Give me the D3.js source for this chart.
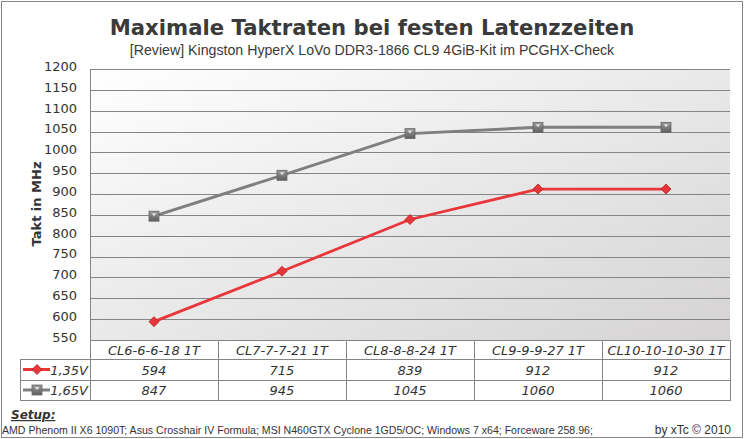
<!DOCTYPE html>
<html><head><meta charset="utf-8">
<script src="https://cdn.jsdelivr.net/npm/d3@7"></script>
<style>body{margin:0;background:#fff}svg{display:block}</style>
</head><body>
<svg id="c" width="746" height="439"></svg>
<script>
const categories = ["CL6-6-6-18 1T","CL7-7-7-21 1T","CL8-8-8-24 1T","CL9-9-9-27 1T","CL10-10-10-30 1T"];
const seriesNames = ["1,35V","1,65V"];
const values135 = [594,715,839,912,912];
const values165 = [847,945,1045,1060,1060];
const yTicks = [550,600,650,700,750,800,850,900,950,1000,1050,1100,1150,1200];
const title = "Maximale Taktraten bei festen Latenzzeiten";
const subtitle = "[Review] Kingston HyperX LoVo DDR3-1866 CL9 4GiB-Kit im PCGHX-Check";
const yTitle = "Takt in MHz";
const setupLabel = "Setup:";
const setupText = "AMD Phenom II X6 1090T; Asus Crosshair IV Formula; MSI N460GTX Cyclone 1GD5/OC; Windows 7 x64; Forceware 258.96;";
const credit = "by xTc © 2010";

const series = [
  {name: seriesNames[0], values: values135, color:"#e8363a", marker:"diamond"},
  {name: seriesNames[1], values: values165, color:"#7f7f7f", marker:"square"}
];

const svg = d3.select("#c");
const P={l:90,r:730,t:69,b:340};
const font="Tahoma, 'DejaVu Sans', sans-serif";
const narrow="'Liberation Sans', Arial, sans-serif";
const txt="#333";

svg.append("rect").attr("x",1.5).attr("y",1.5).attr("width",741).attr("height",436)
  .attr("fill","#fff").attr("stroke","#888").attr("stroke-width",1);

const defs=svg.append("defs");
const g=defs.append("linearGradient").attr("id","bg").attr("x1","0").attr("y1","0").attr("x2","1").attr("y2","1");
g.append("stop").attr("offset","0").attr("stop-color","#ffffff");
g.append("stop").attr("offset","1").attr("stop-color","#d5d3d3");
const gs=defs.append("linearGradient").attr("id","sq").attr("x1","0").attr("y1","0").attr("x2","0").attr("y2","1");
gs.append("stop").attr("offset","0").attr("stop-color","#9a9a9a");
gs.append("stop").attr("offset","1").attr("stop-color","#5e5e5e");

const x=d3.scaleBand().domain(categories).range([P.l,P.r]);
const y=d3.scaleLinear().domain([550,1200]).range([P.b,P.t]);

svg.append("rect").attr("x",P.l).attr("y",P.t).attr("width",P.r-P.l).attr("height",P.b-P.t).attr("fill","url(#bg)");

const yAxis=d3.axisLeft(y).tickValues(yTicks).tickFormat(d3.format("d")).tickSize(-(P.r-P.l)).tickPadding(13);
const ya=svg.append("g").attr("transform",`translate(${P.l},0)`).call(yAxis);
ya.select(".domain").remove();
ya.selectAll(".tick line").attr("stroke","#858585").attr("stroke-width",1).attr("shape-rendering","crispEdges");
ya.selectAll(".tick text").attr("fill",txt).attr("font-family",font).attr("font-size",13).attr("dy","0.1em");

svg.append("line").attr("x1",P.l+0.5).attr("x2",P.l+0.5).attr("y1",P.t).attr("y2",400)
  .attr("stroke","#858585").attr("shape-rendering","crispEdges");

function fit(sel,w){const l=sel.node().getComputedTextLength();const fs=+sel.attr("font-size");sel.attr("font-size",fs*w/l);}
const t=svg.append("text").attr("x",372).attr("y",35).attr("text-anchor","middle").attr("font-family",font)
  .attr("font-weight","bold").attr("font-size",26).attr("fill","#3a3a3a").text(title);
fit(t,525);
const st=svg.append("text").attr("x",372).attr("y",55).attr("text-anchor","middle").attr("font-family",narrow)
  .attr("font-size",15).attr("fill","#3a3a3a").text(subtitle);
fit(st,485);

svg.append("text").attr("transform","translate(41,204) rotate(-90)").attr("text-anchor","middle")
  .attr("font-family",font).attr("font-weight","bold").attr("font-size",13).attr("fill",txt).text(yTitle);

const line=d3.line().x((d,i)=>x(categories[i])+x.bandwidth()/2).y(d=>y(d));
function drawMarker(gm,type,cx,cy,color){
  if(type==="diamond"){
    gm.append("path").attr("d",`M${cx},${cy-5}L${cx+5},${cy}L${cx},${cy+5}L${cx-5},${cy}Z`)
      .attr("fill",color).attr("stroke","#b02020").attr("stroke-width",0.8);
  } else {
    gm.append("rect").attr("x",cx-5).attr("y",cy-5).attr("width",10).attr("height",10)
      .attr("fill","url(#sq)").attr("stroke","#666").attr("stroke-width",0.8);
    gm.append("path").attr("d",`M${cx-2.5},${cy-3}L${cx+2.5},${cy-3}L${cx},${cy}Z`).attr("fill","#e0e0e0");
  }
}
series.slice().reverse().forEach(s=>{
  svg.append("path").datum(s.values).attr("d",line).attr("fill","none").attr("stroke",s.color)
    .attr("stroke-width",s.marker==="square"?3:2.8);
  const gm=svg.append("g");
  s.values.forEach((v,i)=>drawMarker(gm,s.marker,x(categories[i])+x.bandwidth()/2,y(v),s.color));
});

const rows=[340,359,380,400];
const tg=svg.append("g").attr("stroke","#858585").attr("shape-rendering","crispEdges");
tg.append("line").attr("x1",P.l).attr("x2",P.r+1).attr("y1",rows[0]+0.5).attr("y2",rows[0]+0.5);
[1,2,3].forEach(k=>tg.append("line").attr("x1",20).attr("x2",P.r+1).attr("y1",rows[k]+0.5).attr("y2",rows[k]+0.5));
tg.append("line").attr("x1",20.5).attr("x2",20.5).attr("y1",rows[1]).attr("y2",rows[3]);
categories.forEach(c=>{const xx=x(c)+x.bandwidth();
  tg.append("line").attr("x1",xx+0.5).attr("x2",xx+0.5).attr("y1",rows[0]).attr("y2",rows[3]);});

categories.forEach(c=>svg.append("text").attr("x",x(c)+x.bandwidth()/2).attr("y",rows[0]+14.5)
  .attr("text-anchor","middle").attr("font-family",font).attr("font-style","italic").attr("font-size",13)
  .attr("fill",txt).text(c));
series.forEach((s,k)=>{
  const cy=(rows[k+1]+rows[k+2])/2;
  s.values.forEach((v,i)=>svg.append("text").attr("x",x(categories[i])+x.bandwidth()/2).attr("y",cy+5)
    .attr("text-anchor","middle").attr("font-family",font).attr("font-style","italic").attr("font-size",13)
    .attr("fill",txt).text(v));
  svg.append("line").attr("x1",23).attr("x2",50).attr("y1",cy).attr("y2",cy).attr("stroke",s.color).attr("stroke-width",3);
  const gm=svg.append("g");
  drawMarker(gm,s.marker,37,cy,s.color);
  svg.append("text").attr("x",88).attr("y",cy+5).attr("text-anchor","end").attr("font-family",font)
    .attr("font-style","italic").attr("font-size",13).attr("fill",txt).text(s.name);
});

svg.append("text").attr("x",11).attr("y",419).attr("font-family",font).attr("font-weight","bold")
  .attr("font-style","italic").attr("text-decoration","underline").attr("font-size",12).attr("fill",txt).text(setupLabel);
const ft=svg.append("text").attr("x",2).attr("y",434).attr("font-family",narrow).attr("font-size",11)
  .attr("fill",txt).text(setupText);
fit(ft,591);
svg.append("text").attr("x",731).attr("y",434).attr("text-anchor","end").attr("font-family",narrow)
  .attr("font-size",12).attr("fill",txt).text(credit);
</script>
</body></html>
